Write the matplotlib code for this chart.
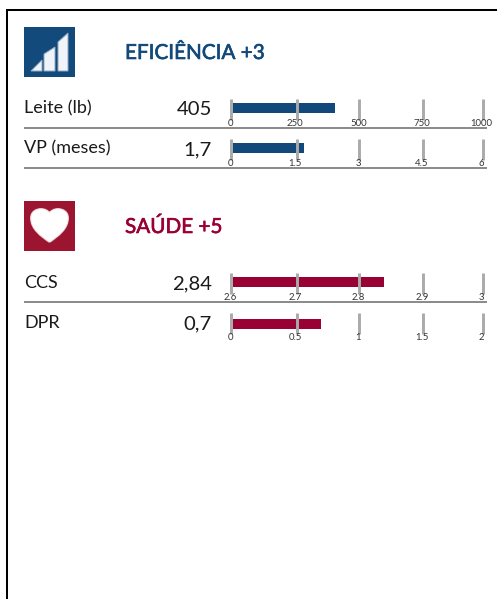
import matplotlib
matplotlib.use("Agg")
import matplotlib.pyplot as plt
import matplotlib.patheffects as pe
from matplotlib.patches import Rectangle, Polygon, PathPatch
from matplotlib.path import Path

W, H = 497, 599
BLUE = "#13487a"
RED = "#990033"
ICON_RED = "#9b1530"

plt.rcParams['font.family'] = ['Lato', 'DejaVu Sans']

# row values
labels = ["Leite (lb)", "VP (meses)", "CCS", "DPR"]
value_text = ["405", "1,7", "2,84", "0,7"]
values = [405, 1.7, 2.84, 0.7]
starts = [0, 0, 2.6, 0]
ticks = [[0, 250, 500, 750, 1000],
         [0, 1.5, 3, 4.5, 6],
         [2.6, 2.7, 2.8, 2.9, 3],
         [0, 0.5, 1, 1.5, 2]]
tick_labels = [["0", "250", "500", "750", "1000"],
               ["0", "1.5", "3", "4.5", "6"],
               ["2.6", "2.7", "2.8", "2.9", "3"],
               ["0", "0.5", "1", "1.5", "2"]]

# pixel layout of each row: tick top, bar top, line y
row_top = [99, 139, 273, 313]
bar_top = [103, 143, 277, 319]
line_y = [128, 168, 302, None]
colors = [BLUE, BLUE, RED, RED]
tick_px = [231.3, 297.3, 359.3, 423.3, 483.3]
label_px = [230, 295, 358.5, 422, 481.5]

fig = plt.figure(figsize=(W / 100, H / 100), dpi=100)
bg = fig.add_axes([0, 0, 1, 1])
bg.set_xlim(0, W)
bg.set_ylim(H, 0)
bg.axis("off")
bg.set_zorder(2)
bg.patch.set_visible(False)

# frame
bg.plot([7, 7, W], [H, 10, 10], color="black", lw=1.45, solid_joinstyle="miter")

# icons
bg.add_patch(Rectangle((24, 27), 51, 50, fc="#134a7c", ec="none"))
bg.add_patch(Rectangle((24, 201), 51, 50, fc=ICON_RED, ec="none"))
for pts in ([(31, 71), (42, 60), (42, 71)],
            [(44, 71), (44, 54), (55, 47), (55, 71)],
            [(58, 71), (58, 42), (68, 33), (68, 71)]):
    bg.add_patch(Polygon(pts, fc="#f0f3f7", ec="#8fa9c3", lw=0.7))
heart = Path([(49.5, 242), (41, 236), (31, 229), (31, 218), (31, 212), (36, 209), (41, 209),
              (45, 209), (48, 211), (49.5, 213), (51, 211), (54, 209), (58, 209),
              (63, 209), (68, 212), (68, 218), (68, 229), (58, 236), (49.5, 242)],
             [Path.MOVETO] + [Path.CURVE4] * 18)
# soft edge like the scaled up icon
bg.add_patch(PathPatch(heart, fc="white", ec="#e2b9c2", lw=1.4))
bg.add_patch(PathPatch(heart, fc="white", ec="#f8ecee", lw=0.5))

# headings, regular weight with a thin stroke to get a medium look
for txt, y, c in (("EFICIÊNCIA +3", 53, BLUE), ("SAÚDE +5", 227, RED)):
    bg.text(125, y, txt, color=c, fontsize=14.9, va="center", ha="left",
            path_effects=[pe.withStroke(linewidth=0.45, foreground=c)])

for i in range(len(labels)):
    # text on the left of the row
    bg.text(24.5, row_top[i] + 9.5, labels[i], color="#1a1a1a", fontsize=13, va="center", ha="left")
    bg.text(212, row_top[i] + 10.5, value_text[i], color="#1a1a1a", fontsize=14.6, va="center", ha="right")
    if line_y[i] is not None:
        bg.plot([24, 487], [line_y[i], line_y[i]], color="#808080", lw=1.3, solid_capstyle="butt")

    # bar on its own scale
    x0, x1 = 233, 485
    ax = fig.add_axes([x0 / W, 1 - (bar_top[i] + 10) / H, (x1 - x0) / W, 10 / H])
    ax.set_xlim(ticks[i][0], ticks[i][-1])
    ax.set_ylim(0, 1)
    ax.axis("off")
    ax.set_zorder(1)
    ax.barh(0.5, values[i] - starts[i], left=starts[i], height=1, color=colors[i])

    # ticks sit on top of the bars
    for t in range(5):
        bg.plot([tick_px[t], tick_px[t]], [row_top[i], row_top[i] + 20.5], color="#aaaaaa",
                lw=2.1, solid_capstyle="butt", zorder=5)
        bg.text(label_px[t], row_top[i] + 25, tick_labels[i][t], color="#333333",
                fontsize=6.9, va="center", ha="center", zorder=6)

fig.savefig("out.png", dpi=100)
